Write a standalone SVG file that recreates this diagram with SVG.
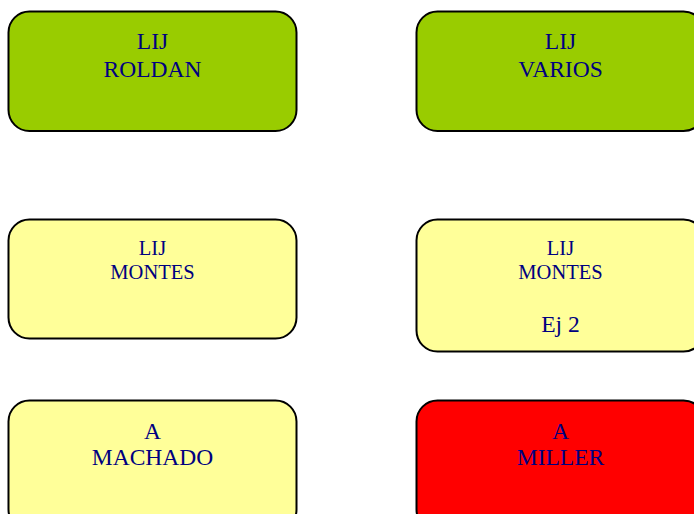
<svg xmlns="http://www.w3.org/2000/svg" width="694" height="514" viewBox="0 0 694 514">
<style>
.box{stroke:#000;stroke-width:2}
.g{fill:#99cc00}
.y{fill:#ffff99}
.r{fill:#ff0000}
text{font-family:"Liberation Serif","Times New Roman",serif;fill:#000080;text-anchor:middle}
.l{font-size:23.5px}
.s{font-size:20.5px}
</style>
<rect width="694" height="514" fill="#fff"/>
<g id="connectors"></g>
<g id="n1">
<rect class="box g" x="8.5" y="11.5" width="288" height="119.5" rx="21"/>
<text class="l" x="152.5" y="49">LIJ</text>
<text class="l" x="152.5" y="77">ROLDAN</text>
</g>
<g id="n2">
<rect class="box g" x="416.5" y="11.5" width="288" height="119.5" rx="21"/>
<text class="l" x="560.5" y="49">LIJ</text>
<text class="l" x="560.5" y="77">VARIOS</text>
</g>
<g id="n3">
<rect class="box y" x="8.5" y="219.5" width="288" height="119" rx="21"/>
<text class="s" x="152.5" y="254.5">LIJ</text>
<text class="s" x="152.5" y="278.5">MONTES</text>
</g>
<g id="n4">
<rect class="box y" x="416.5" y="219.5" width="288" height="132" rx="21"/>
<text class="s" x="560.5" y="254.5">LIJ</text>
<text class="s" x="560.5" y="278.5">MONTES</text>
<text class="l" x="560.5" y="331.5">Ej 2</text>
</g>
<g id="n5">
<rect class="box y" x="8.5" y="400.5" width="288" height="130" rx="21"/>
<text class="l" x="152.5" y="438.5">A</text>
<text class="l" x="152.5" y="465">MACHADO</text>
</g>
<g id="n6">
<rect class="box r" x="416.5" y="400.5" width="288" height="130" rx="21"/>
<text class="l" x="560.5" y="438.5">A</text>
<text class="l" x="560.5" y="465">MILLER</text>
</g>
</svg>
